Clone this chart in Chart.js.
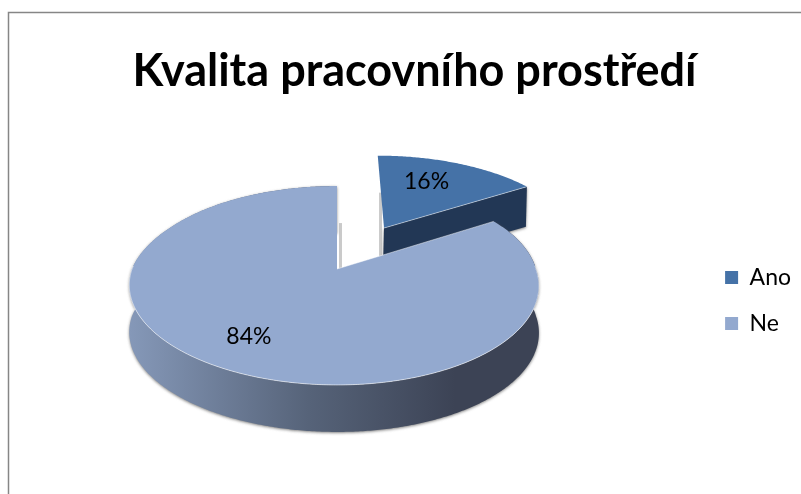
<!DOCTYPE html>
<html lang="cs">
<head>
<meta charset="utf-8">
<title>Kvalita pracovního prostředí</title>
<style>
  html, body { margin: 0; padding: 0; background: #fff; overflow: hidden; }
  #wrap { position: absolute; left: 0; top: 0; width: 801px; height: 494px; }
</style>
<script src="https://cdn.jsdelivr.net/npm/chart.js@4/dist/chart.umd.min.js"></script>
</head>
<body>
<div id="wrap"><canvas id="chart" width="801" height="494"></canvas></div>
<script>
const chartTitle = 'Kvalita pracovního prostředí';
const categories = ['Ano', 'Ne'];
const shares = [16, 84];
const sliceColors = ['#4572A7', '#93A9CF'];
const sideColors = ['#223755', null];
const explodedSlices = [0.52, 0];

// Perspective disc: unit-circle coordinates are projected onto the page,
// the far half being foreshortened relative to the near half.
const disc = { cx: 337, cy: 269, a: 202, b: 96.7, k: 0.166, bodyDepth: 47, wedgeDepth: 40, lean: 3 };

function project(u, v) {
  const w = 1 - disc.k * v;
  // the near half of the rim leans slightly to the left
  const fade = Math.min(1, Math.max(0, (v + 0.5) / 0.5));
  const lean = disc.lean * u * u * fade;
  return { x: disc.cx + disc.a * u / w - lean, y: disc.cy + disc.b * v / w };
}
function tracePoint(ctx, p, first, dy) {
  if (first) ctx.moveTo(p.x, p.y + dy); else ctx.lineTo(p.x, p.y + dy);
}
function rimPoints(start, end, ox, oy) {
  const n = Math.max(2, Math.ceil(Math.abs(end - start) / 0.01));
  const pts = [];
  for (let i = 0; i <= n; i++) {
    const t = start + (end - start) * i / n;
    pts.push(project(ox + Math.cos(t), oy + Math.sin(t)));
  }
  return pts;
}

// Replaces the flat arcs with extruded wedges built from each arc's own angles.
const pie3d = {
  id: 'pie3d',
  beforeDatasetDraw(chart, args) {
    const ctx = chart.ctx;
    const arcs = args.meta.data;
    const geo = arcs.map((arc, i) => {
      const mid = (arc.startAngle + arc.endAngle) / 2;
      const e = explodedSlices[i];
      return { i, start: arc.startAngle, end: arc.endAngle, mid,
               ox: e * Math.cos(mid), oy: e * Math.sin(mid) };
    });

    ctx.save();
    // Narrow shaded strips along the straight edges that face away from the viewer.
    geo.forEach(g => {
      const apex = project(g.ox, g.oy);
      const exploded = explodedSlices[g.i] > 0;
      const rim = rimPoints(g.start, g.end, g.ox, g.oy);
      const far = exploded ? rim[0] : rim[rim.length - 1];
      const top = far.y + disc.wedgeDepth - 3;
      const x = exploded ? apex.x - 5 : far.x + 2;
      const bottom = exploded ? apex.y + disc.wedgeDepth - 12 : apex.y;
      ctx.fillStyle = 'rgba(150,150,150,0.5)';
      ctx.fillRect(x, top, 3, bottom - top);
    });

    // soft edge under the body of the pie
    ctx.shadowColor = 'rgba(90,90,90,0.75)';
    ctx.shadowBlur = 3;
    ctx.shadowOffsetX = 0;
    ctx.shadowOffsetY = 1;

    // Extruded sides, the exploded wedge first because it sits further back.
    geo.filter(g => explodedSlices[g.i] > 0).forEach(g => {
      const apex = project(g.ox, g.oy);
      const rim = rimPoints(g.start, g.end, g.ox, g.oy);
      const last = rim[rim.length - 1];
      ctx.beginPath();
      ctx.moveTo(apex.x, apex.y);
      ctx.lineTo(last.x, last.y);
      ctx.lineTo(last.x - 1, last.y + disc.wedgeDepth);
      ctx.lineTo(apex.x - 1, apex.y + disc.wedgeDepth);
      ctx.closePath();
      ctx.fillStyle = sideColors[g.i];
      ctx.fill();
    });
    geo.filter(g => explodedSlices[g.i] === 0).forEach(g => {
      const rim = rimPoints(g.start, g.end, g.ox, g.oy);
      const grad = ctx.createLinearGradient(130, 0, 455, 0);
      grad.addColorStop(0, '#8598B8');
      grad.addColorStop(0.55, '#566379');
      grad.addColorStop(1, '#3C4355');
      ctx.beginPath();
      rim.forEach((p, j) => tracePoint(ctx, p, j === 0, disc.bodyDepth));
      for (let j = rim.length - 1; j >= 0; j--) ctx.lineTo(rim[j].x, rim[j].y);
      ctx.closePath();
      ctx.fillStyle = grad;
      ctx.fill();
    });
    ctx.shadowColor = 'transparent';

    // Top faces with the pale rim highlight.
    geo.forEach(g => {
      const apex = project(g.ox, g.oy);
      const rim = rimPoints(g.start, g.end, g.ox, g.oy);
      const exploded = explodedSlices[g.i] > 0;
      ctx.beginPath();
      ctx.moveTo(apex.x, apex.y);
      rim.forEach(p => ctx.lineTo(p.x, p.y));
      ctx.closePath();
      ctx.fillStyle = sliceColors[g.i];
      ctx.fill();
      ctx.lineWidth = 0.8;
      ctx.strokeStyle = 'rgba(255,255,255,0.6)';
      ctx.beginPath();
      const edgeEnd = exploded ? rim[rim.length - 1] : rim[0];
      ctx.moveTo(apex.x, apex.y);
      ctx.lineTo(edgeEnd.x, edgeEnd.y);
      ctx.stroke();
      if (!exploded) {
        const front = rimPoints(-Math.PI * 0.01, Math.PI * 1.01, 0, 0);
        ctx.beginPath();
        front.forEach((p, j) => tracePoint(ctx, p, j === 0, 0));
        ctx.strokeStyle = 'rgba(255,255,255,0.7)';
        ctx.stroke();
      }
    });
    ctx.restore();
    return false;
  },
  afterDraw(chart) {
    // Percentage labels sit on the top faces, placed as radius fraction and a small turn.
    const ctx = chart.ctx;
    const arcs = chart.getDatasetMeta(0).data;
    const fractions = [0.66, 0.74];
    const turns = [-0.08, 0.05];
    ctx.save();
    ctx.font = '23px Lato, "Open Sans", sans-serif';
    ctx.fillStyle = '#000';
    ctx.textAlign = 'center';
    ctx.textBaseline = 'middle';
    arcs.forEach((arc, i) => {
      const mid = (arc.startAngle + arc.endAngle) / 2;
      const e = explodedSlices[i];
      const r = fractions[i];
      const t = mid + turns[i];
      const p = project(e * Math.cos(mid) + r * Math.cos(t), e * Math.sin(mid) + r * Math.sin(t));
      ctx.fillText(shares[i] + '%', p.x, p.y);
    });
    ctx.restore();
  }
};

// Outer frame of the chart object; its right and bottom sides run off the page.
const frame = {
  id: 'frame',
  beforeDraw(chart) {
    const ctx = chart.ctx;
    ctx.save();
    ctx.strokeStyle = '#868686';
    ctx.lineWidth = 1.5;
    ctx.strokeRect(8.5, 12.5, 900, 600);
    ctx.restore();
  }
};

new Chart(document.getElementById('chart'), {
  type: 'pie',
  plugins: [frame, pie3d],
  data: {
    labels: categories,
    datasets: [{ data: shares, backgroundColor: sliceColors, borderWidth: 0 }]
  },
  options: {
    responsive: false,
    animation: false,
    layout: { padding: { top: 36, left: 28, right: 0 } },
    plugins: {
      tooltip: { enabled: false },
      title: {
        display: true,
        text: chartTitle,
        color: '#000',
        font: { family: 'Lato, "Open Sans", sans-serif', size: 45, weight: 'bold' },
        padding: { top: 8, bottom: 9 }
      },
      legend: {
        position: 'right',
        fullSize: false,
        labels: {
          boxWidth: 13,
          boxHeight: 13,
          padding: 23,
          color: '#000',
          font: { family: 'Lato, "Open Sans", sans-serif', size: 23 }
        }
      }
    }
  }
});
</script>
</body>
</html>
